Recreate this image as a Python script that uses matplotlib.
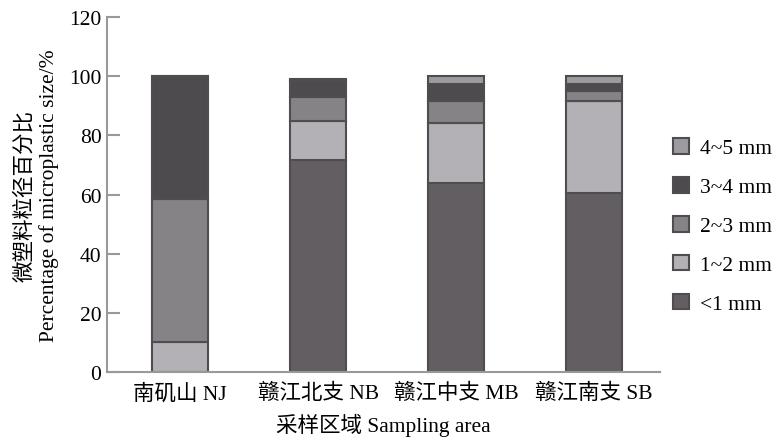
import matplotlib
matplotlib.use("Agg")
import matplotlib.pyplot as plt
from matplotlib.patches import Patch

plt.rcParams['font.family'] = ['Liberation Serif', 'Noto Sans CJK SC']
plt.rcParams['font.size'] = 15.5

sites = ['南矶山 NJ', '赣江北支 NB', '赣江中支 MB', '赣江南支 SB']
size_classes = ['<1 mm', '1~2 mm', '2~3 mm', '3~4 mm', '4~5 mm']
lt1 = [0.0, 71.5, 64.0, 60.5]
s1_2 = [10.0, 13.5, 20.3, 31.0]
s2_3 = [48.5, 8.0, 7.4, 3.4]
s3_4 = [41.5, 5.4, 5.8, 2.6]
s4_5 = [0.0, 0.8, 2.5, 2.5]
series = [lt1, s1_2, s2_3, s3_4, s4_5]
colors = ['#625e62', '#b3b1b5', '#858386', '#4d4b4d', '#9d9b9f']
edge = '#4f4d50'

fig = plt.figure(figsize=(7.72, 4.39), dpi=100)
ax = fig.add_axes([0.1386, 0.1503, 0.855 - 0.1386, 0.959 - 0.1503])

x = list(range(len(sites)))
bottom = [0.0] * len(sites)
for vals, col in zip(series, colors):
    ax.bar(x, vals, bottom=bottom, width=0.41, color=col,
           edgecolor=edge, linewidth=1.5)
    bottom = [b + v for b, v in zip(bottom, vals)]

ax.set_xlim(-0.53, 3.48)
ax.set_ylim(0, 120)
ax.set_yticks(range(0, 121, 20))
ax.set_xticks(x)
ax.set_xticklabels(sites)
ax.tick_params(axis='x', length=0, pad=8)
ax.tick_params(axis='y', direction='in', length=9, width=1.5, color='#999999', pad=4)

for s in ['top', 'right']:
    ax.spines[s].set_visible(False)
for s in ['left', 'bottom']:
    ax.spines[s].set_color('#999999')
    ax.spines[s].set_linewidth(1.5)

ax.set_xlabel('采样区域 Sampling area', labelpad=7)
ax.set_ylabel('微塑料粒径百分比\nPercentage of microplastic size/%', labelpad=7,
              linespacing=1.25)

handles = [Patch(facecolor=c, edgecolor=edge, linewidth=1.5, label=l)
           for c, l in zip(colors, size_classes)][::-1]
fig.legend(handles=handles, loc='center left', bbox_to_anchor=(0.872, 0.483),
           frameon=False, borderpad=0, borderaxespad=0,
           handlelength=0.75, handleheight=0.75,
           handletextpad=0.5, labelspacing=0.86, fontsize=15.5)

fig.savefig('out.png', dpi=100)
